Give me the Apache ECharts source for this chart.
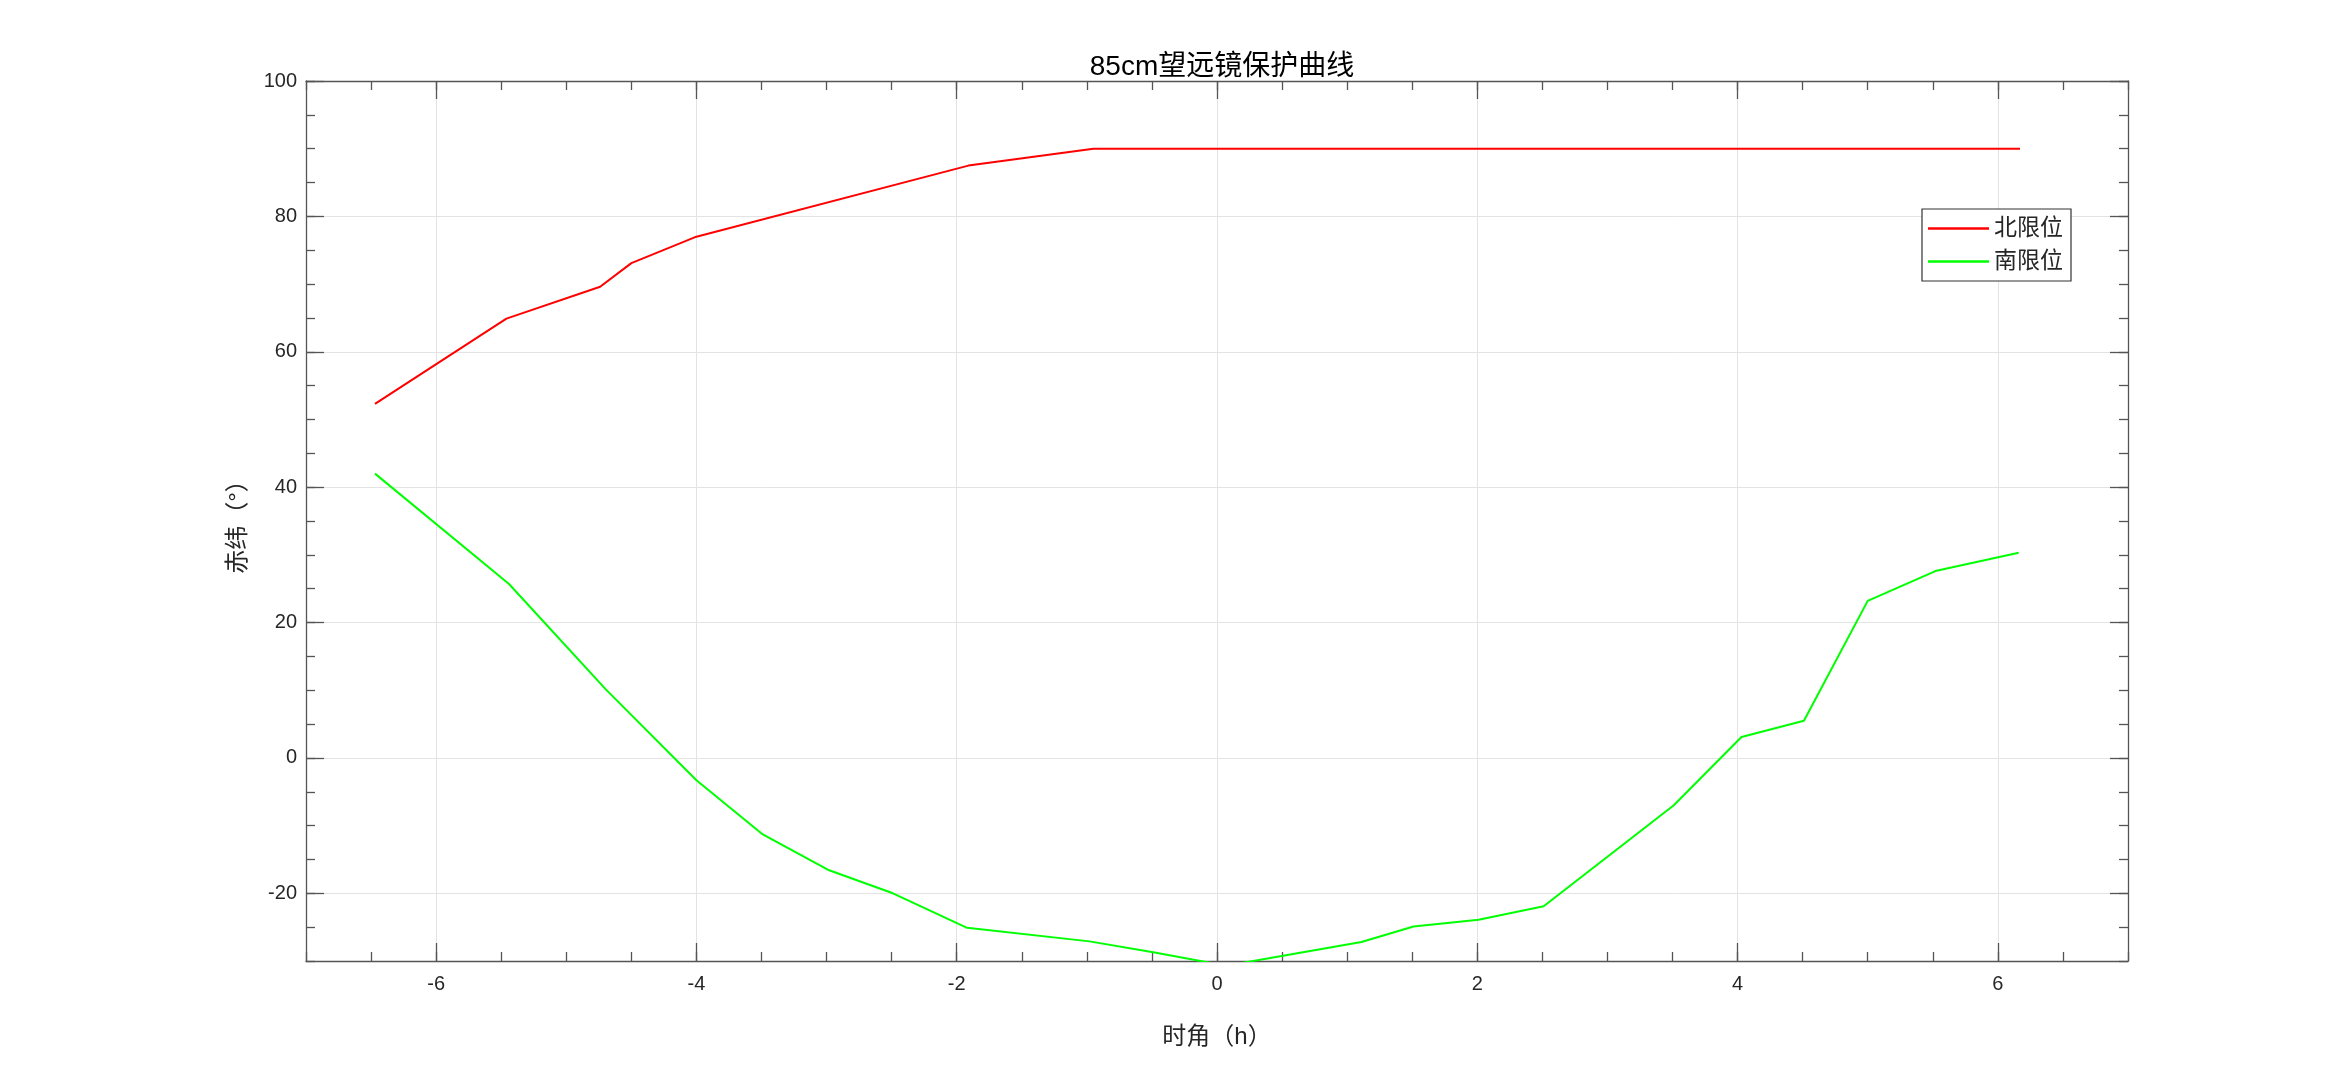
<!DOCTYPE html>
<html>
<head>
<meta charset="utf-8">
<script src="https://cdn.jsdelivr.net/npm/echarts@6/dist/echarts.min.js"></script>
<style>
html,body{margin:0;padding:0;background:#fff;}
#chart{width:2351px;height:1080px;}
</style>
</head>
<body>
<div id="chart"></div>
<script>
// Data
const titleText = '85cm望远镜保护曲线';
const xName = '时角（h）';
const yName = '赤纬（°）';
const seriesNames = ['北限位', '南限位'];

const northHA  = [-6.47, -5.46, -4.74, -4.50, -4.00, -1.91, -0.95, 6.17];
const northDec = [52.3, 64.9, 69.6, 73.1, 77.0, 87.5, 90.0, 90.0];

const southHA  = [-6.47, -5.44, -4.70, -4.00, -3.49, -2.98, -2.49, -1.92, -0.98, -0.49, 0.07, 1.11, 1.51, 2.01, 2.51, 3.51, 4.03, 4.51, 5.00, 5.52, 6.16];
const southDec = [42.0, 25.7, 10.2, -3.3, -11.3, -16.6, -20.0, -25.1, -27.1, -28.7, -30.7, -27.2, -24.9, -23.9, -21.9, -7.0, 3.1, 5.5, 23.2, 27.6, 30.3];

const xTicks = [-6, -4, -2, 0, 2, 4, 6];
const yTicks = [-20, 0, 20, 40, 60, 80, 100];
const xMin = -7, xMax = 7, xMinorStep = 0.5;
const yMin = -30, yMax = 100, yMinorStep = 5;

const FONT = "'Liberation Sans', 'Noto Sans CJK SC', sans-serif";
const axisColor = '#555555';
const textColor = '#262626';

function pairs(xs, ys) { return xs.map((x, i) => [x, ys[i]]); }

const axisLineStyle = { color: axisColor, width: 1.3 };

function minorX(pos) {
  return {
    type: 'value', position: pos, min: xMin, max: xMax, interval: xMinorStep,
    axisLine: { show: true, onZero: false, lineStyle: axisLineStyle },
    axisTick: { show: true, inside: true, length: 9, lineStyle: axisLineStyle },
    axisLabel: { show: false }, splitLine: { show: false }
  };
}
function majorX(pos, withLabels) {
  return {
    type: 'value', position: pos, min: xMin, max: xMax,
    name: withLabels ? xName : '',
    nameLocation: 'middle', nameGap: 64,
    nameTextStyle: { fontFamily: FONT, fontSize: 24, color: textColor },
    axisLine: { show: false, onZero: false },
    axisTick: { show: true, inside: true, length: 18, customValues: xTicks, lineStyle: axisLineStyle },
    axisLabel: { show: withLabels, customValues: xTicks, margin: 13, fontFamily: FONT, fontSize: 20, color: textColor },
    splitLine: { show: withLabels, lineStyle: { color: '#e3e3e3', width: 1 } }
  };
}
function minorY(pos) {
  return {
    type: 'value', position: pos, min: yMin, max: yMax, interval: yMinorStep,
    axisLine: { show: true, onZero: false, lineStyle: axisLineStyle },
    axisTick: { show: true, inside: true, length: 9, lineStyle: axisLineStyle },
    axisLabel: { show: false }, splitLine: { show: false }
  };
}
function majorY(pos, withLabels) {
  return {
    type: 'value', position: pos, min: yMin, max: yMax,
    name: withLabels ? yName : '',
    nameLocation: 'middle', nameGap: 56, nameRotate: 90,
    nameTextStyle: { fontFamily: FONT, fontSize: 24, color: textColor },
    axisLine: { show: false, onZero: false },
    axisTick: { show: true, inside: true, length: 18, customValues: yTicks, lineStyle: axisLineStyle },
    axisLabel: { show: withLabels, customValues: yTicks, margin: 9, fontFamily: FONT, fontSize: 20, color: textColor },
    splitLine: { show: withLabels, lineStyle: { color: '#e3e3e3', width: 1 } }
  };
}

const chart = echarts.init(document.getElementById('chart'), null, { renderer: 'canvas' });
chart.setOption({
  backgroundColor: '#ffffff',
  animation: false,
  title: {
    text: titleText, left: 1217, top: 48, textAlign: 'center',
    textStyle: { fontFamily: FONT, fontSize: 28, fontWeight: 'normal', color: '#000' }
  },
  grid: { left: 306, top: 81, width: 1822, height: 880, containLabel: false },
  legend: {
    orient: 'vertical', left: 1922, top: 209,
    padding: [8, 8, 8, 6], itemGap: 10,
    icon: 'rect', itemWidth: 61, itemHeight: 2.5,
    backgroundColor: '#ffffff', borderColor: '#333333', borderWidth: 1.2, borderRadius: 0,
    textStyle: { fontFamily: FONT, fontSize: 23, color: textColor },
    data: seriesNames
  },
  xAxis: [majorX('bottom', true), minorX('bottom'), minorX('top'), majorX('top', false)],
  yAxis: [majorY('left', true), minorY('left'), minorY('right'), majorY('right', false)],
  series: [
    {
      name: seriesNames[0], type: 'line', xAxisIndex: 0, yAxisIndex: 0,
      data: pairs(northHA, northDec), symbol: 'none', clip: true,
      lineStyle: { color: '#ff0000', width: 2 }, itemStyle: { color: '#ff0000' }
    },
    {
      name: seriesNames[1], type: 'line', xAxisIndex: 0, yAxisIndex: 0,
      data: pairs(southHA, southDec), symbol: 'none', clip: true,
      lineStyle: { color: '#00ff00', width: 2 }, itemStyle: { color: '#00ff00' }
    }
  ]
});
</script>
</body>
</html>
